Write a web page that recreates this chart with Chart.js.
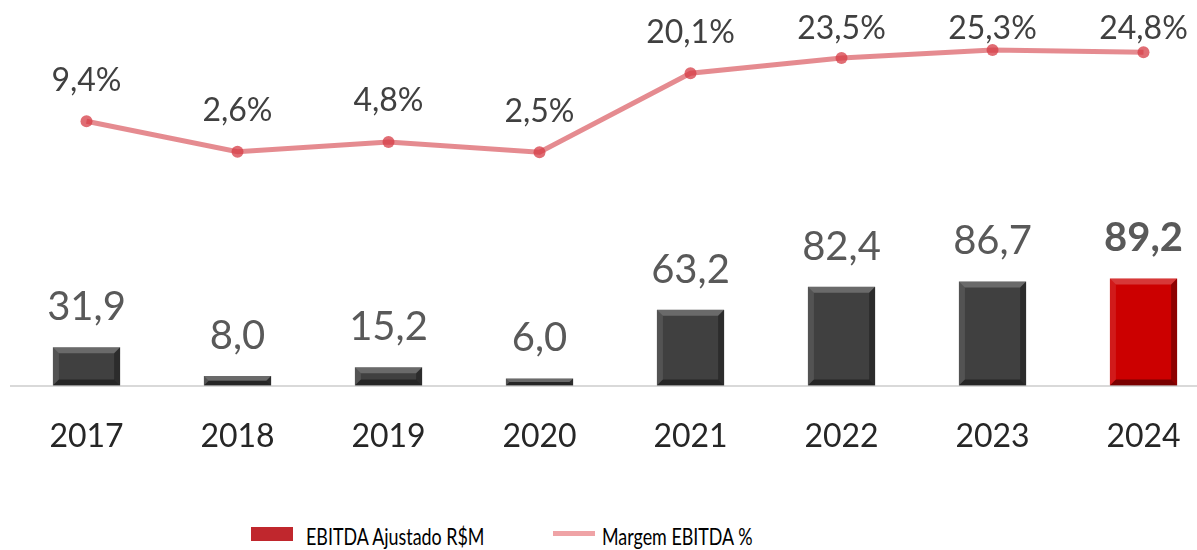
<!DOCTYPE html>
<html>
<head>
<meta charset="utf-8">
<script src="https://cdn.jsdelivr.net/npm/chart.js@4.4.1/dist/chart.umd.min.js"></script>
<style>
  html, body { margin: 0; padding: 0; background: #fff; overflow: hidden; }
  #wrap { position: relative; width: 1230px; height: 550px; }
  #box { position: absolute; left: 0; top: 0; width: 1230px; height: 503px; }
  .lg { position: absolute; font-family: Lato, sans-serif; font-size: 24px; color: #000; white-space: nowrap; line-height: 1; transform: scaleX(0.745); transform-origin: left center; }
  .sw { position: absolute; }
</style>
</head>
<body>
<div id="wrap">
  <div id="box"><canvas id="chart"></canvas></div>
  <div class="sw" style="left:251px; top:527px; width:42px; height:14px; background:#C0272D;"></div>
  <div class="lg" style="left:306px; top:524px;">EBITDA Ajustado R$M</div>
  <div class="sw" style="left:553px; top:531px; width:42px; height:5px; background:#EFA3A6;"></div>
  <div class="lg" style="left:602px; top:524px;">Margem EBITDA %</div>
</div>
<script>
// ---- DATA ----
const years = ['2017', '2018', '2019', '2020', '2021', '2022', '2023', '2024'];
const ebitda = [31.9, 8.0, 15.2, 6.0, 63.2, 82.4, 86.7, 89.2];
const margem = [9.4, 2.6, 4.8, 2.5, 20.1, 23.5, 25.3, 24.8];
const barColors = ['#404040', '#404040', '#404040', '#404040', '#404040', '#404040', '#404040', '#CC0000'];

const fmt = v => v.toFixed(1).replace('.', ',');

// draws a bevel look on each bar, using the bar element geometry
const bevelPlugin = {
    id: 'bevel',
    afterDatasetDraw(chart, args) {
        if (args.index !== 1) return;
        const ctx = chart.ctx;
        args.meta.data.forEach(bar => {
            const l = bar.x - bar.width / 2, r = bar.x + bar.width / 2;
            const t = bar.y, b = bar.base;
            const bw = Math.min(6, (b - t) / 2);
            ctx.save();
            // top
            ctx.fillStyle = 'rgba(255,255,255,0.22)';
            ctx.beginPath();
            ctx.moveTo(l, t); ctx.lineTo(r, t); ctx.lineTo(r - bw, t + bw); ctx.lineTo(l + bw, t + bw); ctx.closePath(); ctx.fill();
            // left
            ctx.fillStyle = 'rgba(255,255,255,0.10)';
            ctx.beginPath();
            ctx.moveTo(l, t); ctx.lineTo(l + bw, t + bw); ctx.lineTo(l + bw, b - bw); ctx.lineTo(l, b); ctx.closePath(); ctx.fill();
            // right
            ctx.fillStyle = 'rgba(0,0,0,0.3)';
            ctx.beginPath();
            ctx.moveTo(r, t); ctx.lineTo(r - bw, t + bw); ctx.lineTo(r - bw, b - bw); ctx.lineTo(r, b); ctx.closePath(); ctx.fill();
            // bottom
            ctx.fillStyle = 'rgba(0,0,0,0.4)';
            ctx.beginPath();
            ctx.moveTo(l, b); ctx.lineTo(l + bw, b - bw); ctx.lineTo(r - bw, b - bw); ctx.lineTo(r, b); ctx.closePath(); ctx.fill();
            ctx.restore();
        });
    }
};

// value labels above bars and points (point labels kept inside the top edge)
const labelPlugin = {
    id: 'valueLabels',
    afterDatasetsDraw(chart) {
        const ctx = chart.ctx;
        ctx.save();
        ctx.textAlign = 'center';
        ctx.textBaseline = 'middle';
        chart.getDatasetMeta(1).data.forEach((bar, i) => {
            const last = i === ebitda.length - 1;
            ctx.font = (last ? 'bold ' : '') + '40px Lato';
            ctx.fillStyle = '#595959';
            ctx.fillText(fmt(ebitda[i]), bar.x, bar.y - 40);
        });
        chart.getDatasetMeta(0).data.forEach((pt, i) => {
            ctx.font = '32px Lato';
            ctx.fillStyle = '#404040';
            ctx.fillText(fmt(margem[i]) + '%', pt.x, Math.max(pt.y - 41, 29));
        });
        ctx.restore();
    }
};

new Chart(document.getElementById('chart'), {
    type: 'bar',
    data: {
        labels: years,
        datasets: [{
            type: 'line',
            label: 'Margem EBITDA %',
            data: margem,
            yAxisID: 'y1',
            borderColor: 'rgba(222,110,116,0.8)',
            borderWidth: 5,
            pointRadius: 6,
            pointBackgroundColor: 'rgba(214,60,70,0.75)',
            pointBorderWidth: 0,
            tension: 0,
            order: 0
        }, {
            label: 'EBITDA Ajustado R$M',
            data: ebitda,
            yAxisID: 'y',
            backgroundColor: barColors,
            barPercentage: 0.445,
            categoryPercentage: 1,
            order: 1
        }]
    },
    options: {
        responsive: true,
        maintainAspectRatio: false,
        animation: false,
        layout: { padding: { left: 11, right: 11, top: 10, bottom: 15 } },
        plugins: {
            legend: { display: false },
            tooltip: { enabled: false }
        },
        scales: {
            x: {
                grid: { display: false, drawTicks: false },
                border: { display: true, color: '#D9D9D9', width: 2 },
                ticks: { font: { family: 'Lato', size: 32 }, color: '#262626', padding: 32 }
            },
            y: { display: false, min: 0, max: 313 },
            y1: { display: false, min: -49.5, max: 34.2 }
        }
    },
    plugins: [bevelPlugin, labelPlugin]
});
</script>
</body>
</html>
